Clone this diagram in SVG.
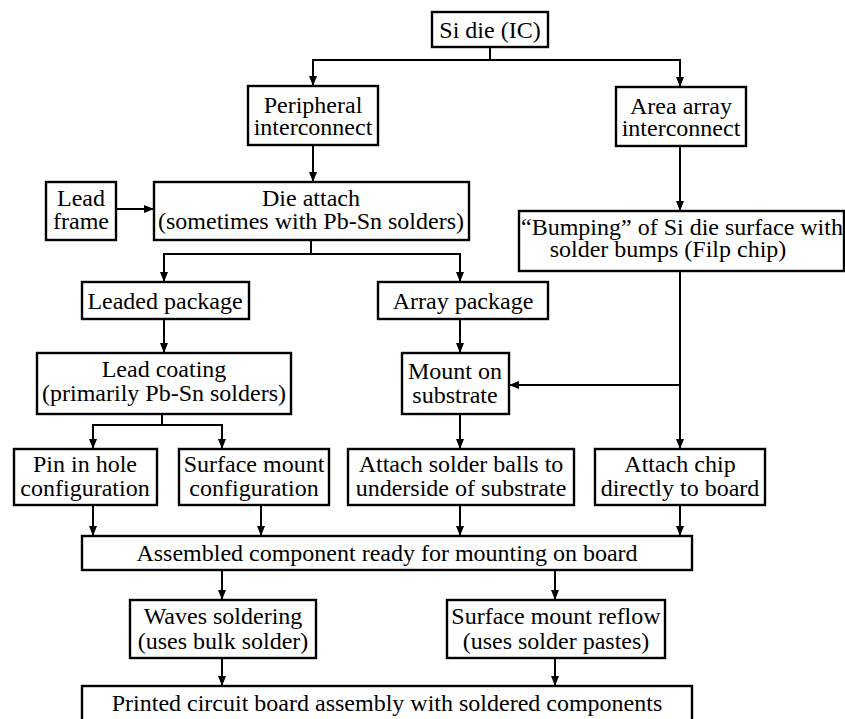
<svg xmlns="http://www.w3.org/2000/svg" width="845" height="719" viewBox="0 0 845 719">
<style>
rect{fill:#fff;stroke:#000;stroke-width:2.4}
text{font-family:"Liberation Serif","Times New Roman",serif;font-size:24px;fill:#000;text-anchor:middle}
#conn path{fill:none;stroke:#000;stroke-width:2}
</style>
<defs>
<marker id="ah" markerUnits="userSpaceOnUse" markerWidth="10" markerHeight="8" refX="10" refY="4" orient="auto">
<path d="M0,0 L10,4 L0,8 z" fill="#000"/>
</marker>
</defs>
<rect x="0" y="0" width="845" height="719" style="stroke:none;fill:#fff"/>
<g id="conn">
<path d="M490 47 V60"/>
<path d="M490 60 H313 V86" marker-end="url(#ah)"/>
<path d="M490 60 H680 V87" marker-end="url(#ah)"/>
<path d="M313 145 V182" marker-end="url(#ah)"/>
<path d="M116 209 H154" marker-end="url(#ah)"/>
<path d="M680 146 V211" marker-end="url(#ah)"/>
<path d="M311 240 V254"/>
<path d="M311 254 H164 V282" marker-end="url(#ah)"/>
<path d="M311 254 H460 V282" marker-end="url(#ah)"/>
<path d="M164 319 V353" marker-end="url(#ah)"/>
<path d="M460 319 V353" marker-end="url(#ah)"/>
<path d="M680 271 V449" marker-end="url(#ah)"/>
<path d="M680 385 H509" marker-end="url(#ah)"/>
<path d="M162 414 V425"/>
<path d="M162 425 H93 V449" marker-end="url(#ah)"/>
<path d="M162 425 H222 V449" marker-end="url(#ah)"/>
<path d="M460 414 V449" marker-end="url(#ah)"/>
<path d="M93 505 V536" marker-end="url(#ah)"/>
<path d="M261 505 V536" marker-end="url(#ah)"/>
<path d="M460 505 V536" marker-end="url(#ah)"/>
<path d="M680 505 V536" marker-end="url(#ah)"/>
<path d="M222 570 V600" marker-end="url(#ah)"/>
<path d="M555 570 V600" marker-end="url(#ah)"/>
<path d="M222 658 V686" marker-end="url(#ah)"/>
<path d="M555 658 V686" marker-end="url(#ah)"/>
</g>
<g id="si"><rect x="432" y="12" width="116" height="35"/><text x="490" y="38">Si die (IC)</text></g>
<g id="periph"><rect x="248" y="86" width="130" height="59"/><text x="313" y="113">Peripheral</text><text x="313" y="135">interconnect</text></g>
<g id="area"><rect x="616" y="87" width="130" height="59"/><text x="681" y="114">Area array</text><text x="681" y="136">interconnect</text></g>
<g id="leadframe"><rect x="46" y="182" width="70" height="58"/><text x="81" y="206">Lead</text><text x="81" y="229">frame</text></g>
<g id="dieattach"><rect x="154" y="182" width="315" height="58"/><text x="311" y="206">Die attach</text><text x="311" y="229">(sometimes with Pb-Sn solders)</text></g>
<g id="bumping"><rect x="519" y="211" width="325" height="60"/><text x="682" y="235">“Bumping” of Si die surface with</text><text x="668" y="257">solder bumps (Filp chip)</text></g>
<g id="leaded"><rect x="82" y="282" width="167" height="37"/><text x="165" y="309">Leaded package</text></g>
<g id="arraypkg"><rect x="378" y="282" width="170" height="37"/><text x="463" y="309">Array package</text></g>
<g id="leadcoat"><rect x="37" y="353" width="254" height="61"/><text x="164" y="377">Lead coating</text><text x="164" y="401">(primarily Pb-Sn solders)</text></g>
<g id="mount"><rect x="402" y="353" width="107" height="61"/><text x="455" y="379">Mount on</text><text x="455" y="403">substrate</text></g>
<g id="pin"><rect x="14" y="449" width="143" height="56"/><text x="85" y="472">Pin in hole</text><text x="85" y="496">configuration</text></g>
<g id="smc"><rect x="179" y="449" width="150" height="56"/><text x="254" y="472">Surface mount</text><text x="254" y="496">configuration</text></g>
<g id="balls"><rect x="348" y="449" width="226" height="56"/><text x="461" y="472">Attach solder balls to</text><text x="461" y="496">underside of substrate</text></g>
<g id="chip"><rect x="595" y="449" width="170" height="56"/><text x="680" y="472">Attach chip</text><text x="680" y="496">directly to board</text></g>
<g id="assembled"><rect x="82" y="536" width="610" height="34"/><text x="387" y="561">Assembled component ready for mounting on board</text></g>
<g id="waves"><rect x="130" y="600" width="186" height="58"/><text x="223" y="624">Waves soldering</text><text x="223" y="649">(uses bulk solder)</text></g>
<g id="smr"><rect x="447" y="600" width="218" height="58"/><text x="556" y="624">Surface mount reflow</text><text x="556" y="649">(uses solder pastes)</text></g>
<g id="pcb"><rect x="82" y="686" width="610" height="40"/><text x="387" y="711">Printed circuit board assembly with soldered components</text></g>
</svg>
